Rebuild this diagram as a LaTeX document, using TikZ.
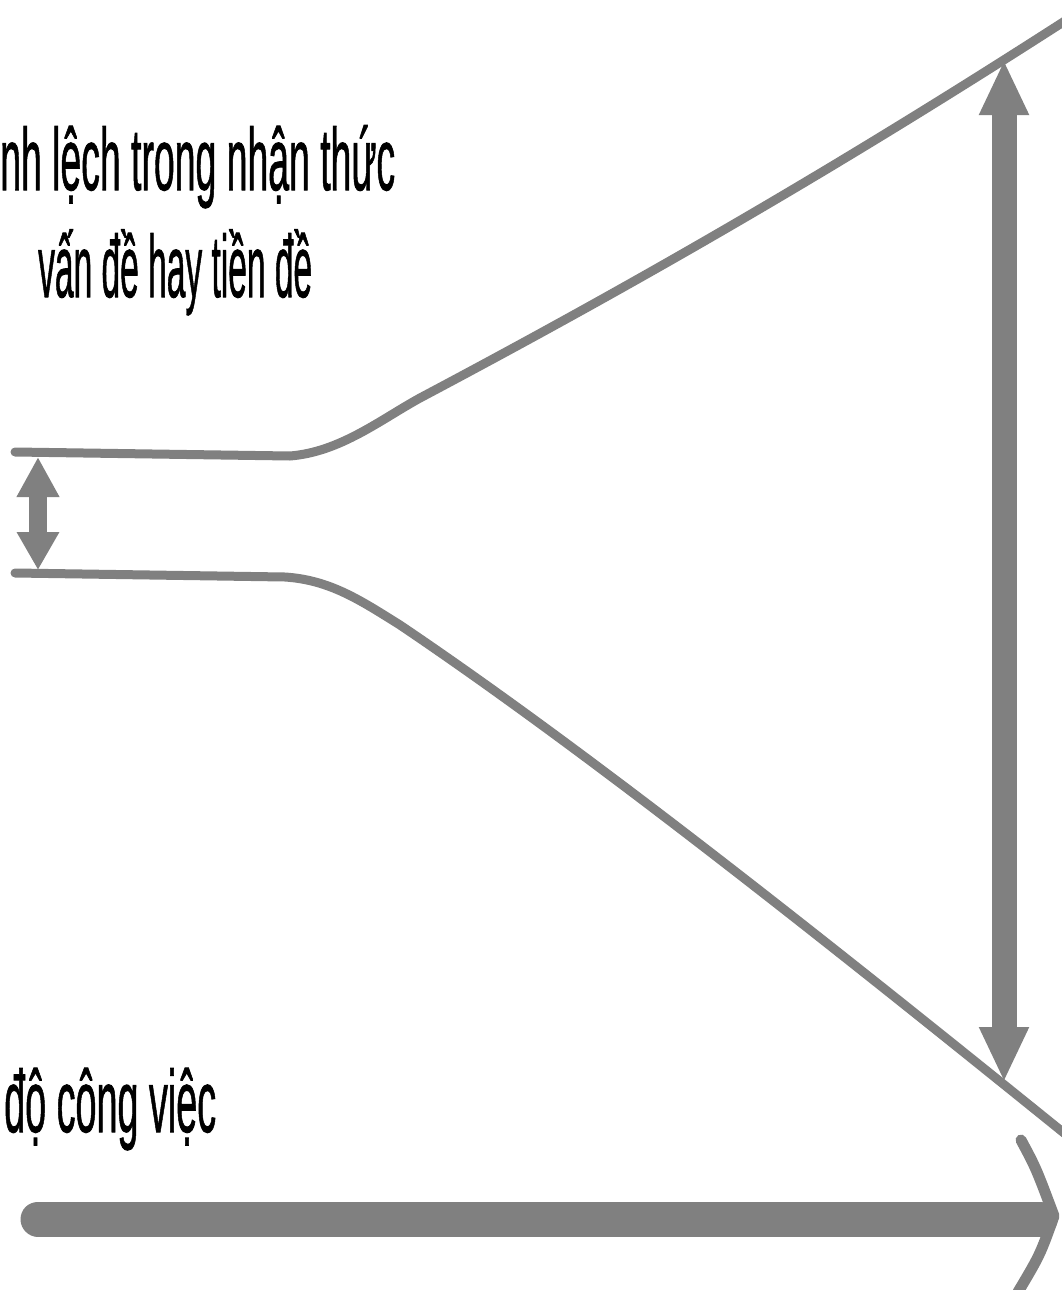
\documentclass[tikz,border=0pt]{standalone}
\usepackage{fontspec}
\usepackage{graphicx}
\setmainfont{Liberation Sans}
\newfontfamily\lblfont{Liberation Sans}[FakeBold=1.2]
\usetikzlibrary{arrows.meta}
\definecolor{ln}{RGB}{128,128,128}
\begin{document}
\begin{tikzpicture}[x=1pt,y=-1pt,
  funnel/.style={draw=ln,line width=9pt,line cap=round,line join=round},
  lbl/.style={anchor=base west,inner sep=0pt,font=\lblfont\fontsize{88}{96}\selectfont},
  dblsmall/.style={draw=ln,line width=18pt,{Triangle[width=40pt,length=40pt]}-{Triangle[width=40pt,length=38pt]}},
  dblbig/.style={draw=ln,line width=25pt,{Triangle[width=46pt,length=55pt]}-{Triangle[width=46pt,length=55pt]}},
  bar/.style={draw=ln,line width=35pt,line cap=round},
  chev/.style={draw=ln,line width=11pt,line cap=round,line join=round}]
\useasboundingbox (0,0) rectangle (1061,1290);
\fill[white] (0,0) rectangle (1061,1290);

% funnel lines
\coordinate (tA) at (15,452);
\coordinate (tB) at (290,456);
\coordinate (tK) at (420,398);
\coordinate (tC) at (1085,8);
\draw[funnel] (tA) -- (tB) .. controls (340,452) and (380,420) .. (tK) .. controls (650,276) and (850,160) .. (tC);
\coordinate (bA) at (15,573);
\coordinate (bB) at (285,577);
\coordinate (bK) at (400,625);
\coordinate (bC) at (1085,1150);
\draw[funnel] (bA) -- (bB) .. controls (330,580) and (360,600) .. (bK) .. controls (600,760) and (850,960) .. (bC);

% small double arrow
\coordinate (sT) at (38,457);
\coordinate (sB) at (38,570);
\draw[dblsmall] (sT) -- (sB);

% big double arrow
\coordinate (gT) at (1004,60);
\coordinate (gB) at (1004,1082);
\draw[dblbig] (gT) -- (gB);

% bottom arrow
\coordinate (aL) at (38,1219);
\coordinate (aR) at (1040,1219);
\draw[bar] (aL) -- (aR);
\coordinate (cT) at (1021,1140);
\coordinate (cM) at (1054,1216);
\coordinate (cB) at (1018,1292);
\draw[chev] (cT) .. controls (1036,1168) .. (cM) .. controls (1040,1255) .. (cB);

% texts
\node[lbl] (t1) at (0,190) {\resizebox{395pt}{\height}{nh lệch trong nhận thức}};
\node[lbl] (t2) at (38,297) {\resizebox{274pt}{\height}{vấn đề hay tiền đề}};
\node[lbl] (t3) at (4,1132) {\resizebox{212pt}{\height}{độ công việc}};
\end{tikzpicture}
\end{document}
